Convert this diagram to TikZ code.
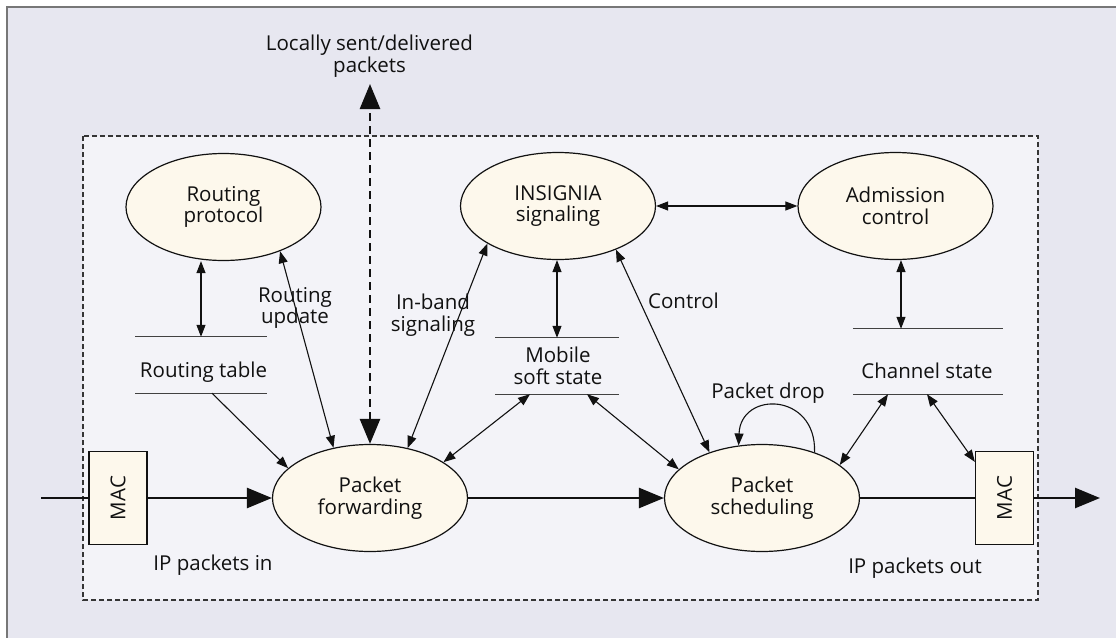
\documentclass[tikz,border=0pt]{standalone}
\usepackage{fontspec}
\setmainfont{Open Sans}
\usetikzlibrary{arrows.meta,shapes.geometric,calc}
\definecolor{outerbg}{HTML}{E7E7F0}
\definecolor{innerbg}{HTML}{F3F3F8}
\definecolor{cream}{HTML}{FDF8EC}
\definecolor{framegray}{HTML}{777777}
\definecolor{ink}{HTML}{111111}
\tikzset{
  txt/.style={font=\fontsize{20.5}{21.5}\selectfont, text=ink, inner sep=0pt, align=center},
  proc/.style={ellipse, draw=ink, line width=1.2pt, fill=cream, minimum width=195pt, minimum height=107pt, inner sep=0pt, txt},
  store/.style={rectangle, inner sep=0pt},
  storeline/.style={draw=ink!80, line width=1.2pt},
  macbox/.style={rectangle, draw=ink, line width=1.2pt, fill=cream, minimum width=58pt, minimum height=93pt, inner sep=0pt, txt},
  conn/.style={draw=ink, line width=1.1pt, {Triangle[length=12pt,width=9pt]}-{Triangle[length=12pt,width=9pt]}},
  oneway/.style={draw=ink, line width=1.1pt, -{Triangle[length=12pt,width=9pt]}},
  mainline/.style={draw=ink, line width=2.6pt},
  mainarrow/.style={draw=ink, line width=2.6pt, -{Triangle[length=25pt,width=20pt]}},
  localarrow/.style={draw=ink, line width=2.6pt, dash pattern=on 8pt off 5pt, {Triangle[length=25pt,width=20pt]}-{Triangle[length=25pt,width=20pt]}},
  innerframe/.style={draw=ink!85, line width=1.2pt, dash pattern=on 5pt off 3pt, fill=innerbg},
}
\begin{document}
\begin{tikzpicture}[x=1pt,y=-1pt]
\useasboundingbox (0,0) rectangle (1116,637);
\fill[white] (0,0) rectangle (1116,637);
\draw[framegray, line width=2.5pt, fill=outerbg] (7,7) rectangle (1140,660);
\draw[innerframe] (83,136) rectangle (1038,600);

% processes
\node[proc] (rp) at (223.5,207) {Routing\\protocol};
\node[proc] (ins) at (558,206) {INSIGNIA\\signaling};
\node[proc] (ac) at (895.5,206) {Admission\\control};
\node[proc] (pf) at (370,498) {Packet\\forwarding};
\node[proc] (ps) at (762,498) {Packet\\scheduling};

% stores
\node[store, minimum width=131pt, minimum height=56pt] (rt) at (201,365) {};
\draw[storeline] (rt.north west) -- (rt.north east) (rt.south west) -- (rt.south east);
\node[txt, anchor=base] (rtl) at (203.5,377) {Routing table};

\node[store, minimum width=123pt, minimum height=56pt] (ms) at (557,366) {};
\draw[storeline] (ms.north west) -- (ms.north east) (ms.south west) -- (ms.south east);
\node[txt] (msl) at (558,366) {Mobile\\soft state};

\node[store, minimum width=150pt, minimum height=65pt] (cs) at (928,361.5) {};
\draw[storeline] (cs.north west) -- (cs.north east) (cs.south west) -- (cs.south east);
\node[txt, anchor=base] (csl) at (927,378) {Channel state};

% MAC boxes
\node[macbox] (m1) at (118,498) {\rotatebox{90}{MAC}};
\node[macbox] (m2) at (1004.5,498) {\rotatebox{90}{MAC}};

\coordinate (in) at (41,498);
\coordinate (out) at (1100,498);
\coordinate (loc) at (370,84);

% main data path
\draw[mainline] (in) -- (m1.west);
\draw[mainarrow] (m1.east) -- (pf.west);
\draw[mainarrow] (pf.east) -- (ps.west);
\draw[mainline] (ps.east) -- (m2.west);
\draw[mainarrow] (m2.east) -- (out);
\draw[localarrow] (pf.north) -- (loc);

% connectors
\draw[conn] (rp.south -| rt.north) -- (rt.north);
\draw[oneway] ([xshift=11pt]rt.south) -- (pf.160);
\draw[conn] (rp.-38) -- (pf.126);
\draw[conn] (ins.208) -- (pf.53);
\draw[conn] (ins.south -| ms.north) -- (ms.north);
\draw[conn] ([xshift=-27pt]ms.south) -- (pf.26);
\draw[conn] ([xshift=30pt]ms.south) -- (ps.161);
\draw[conn] (ins.-37) -- (ps.139.7);
\draw[conn] (ins.east) -- (ac.west);
\draw[conn] ([xshift=5.5pt]ac.south) -- ([xshift=-27pt]cs.north);
\draw[conn] ([xshift=-40pt]cs.south) -- (ps.23);
\draw[conn] ([xshift=-1pt]cs.south) -- ([yshift=-11pt]m2.north west);
\draw[oneway] (ps.41) .. controls +(2,-60) and +(2,-55) .. (ps.114);

% labels
\node[txt] (loclbl) at (369.5,56) {Locally sent/delivered\\packets};
\node[txt] (rul) at (295,308) {Routing\\update};
\node[txt] (ibl) at (433,315) {In-band\\signaling};
\node[txt, anchor=base] (ctl) at (683.5,308) {Control};
\node[txt, anchor=base] (pdl) at (768,398) {Packet drop};
\node[txt, anchor=base] (ipin) at (213,570) {IP packets in};
\node[txt, anchor=base] (ipout) at (915,573) {IP packets out};
\end{tikzpicture}
\end{document}
